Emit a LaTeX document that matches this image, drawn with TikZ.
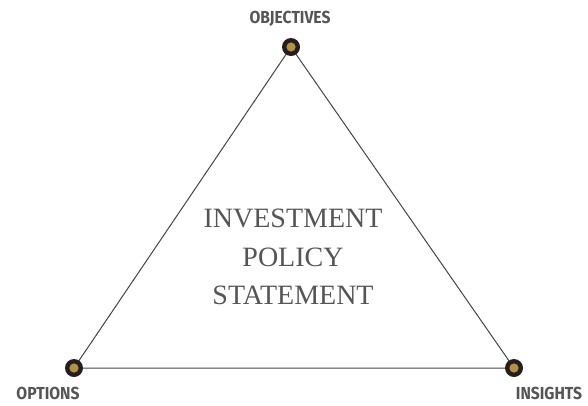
\documentclass[tikz,border=0pt]{standalone}
\usepackage{fontspec}
\setmainfont{Liberation Serif}
\newfontfamily\labelfont{Fira Sans}
\definecolor{txtgray}{HTML}{555555}
\definecolor{linegray}{HTML}{444444}
\definecolor{dotdark}{HTML}{231F20}
\definecolor{dotgold}{HTML}{B8913E}
\tikzset{
  dotnode/.style={circle, fill=dotdark, minimum size=18pt, inner sep=0pt,
    path picture={\fill[dotgold] (path picture bounding box.center) circle (4.6pt);}},
  cornerlabel/.style={text=txtgray, inner sep=0pt, font=\labelfont\bfseries\fontsize{17.4}{18}\selectfont},
  centertext/.style={text=txtgray, align=center, font=\fontsize{28}{38.5}\selectfont, inner sep=0pt},
  edge/.style={draw=linegray, line width=1pt}
}
\begin{document}
\begin{tikzpicture}[x=1pt,y=-1pt]
\useasboundingbox (0,0) rectangle (588,405);
\coordinate (T) at (291,47);
\coordinate (L) at (74,368);
\coordinate (R) at (514,368);
\draw[edge] (T) -- (L) -- (R) -- cycle;
\node[dotnode] (dt) at (T) {};
\node[dotnode] (dl) at (L) {};
\node[dotnode] (dr) at (R) {};
\node[cornerlabel] (lt) at (290,19) {\scalebox{0.9}[1]{OBJECTIVES}};
\node[cornerlabel] (ll) at (48,393) {\scalebox{0.9}[1]{OPTIONS}};
\node[cornerlabel] (lr) at (549,393) {\scalebox{0.9}[1]{INSIGHTS}};
\node[centertext] (c) at (293,257) {INVESTMENT\\POLICY\\STATEMENT};
\end{tikzpicture}
\end{document}
